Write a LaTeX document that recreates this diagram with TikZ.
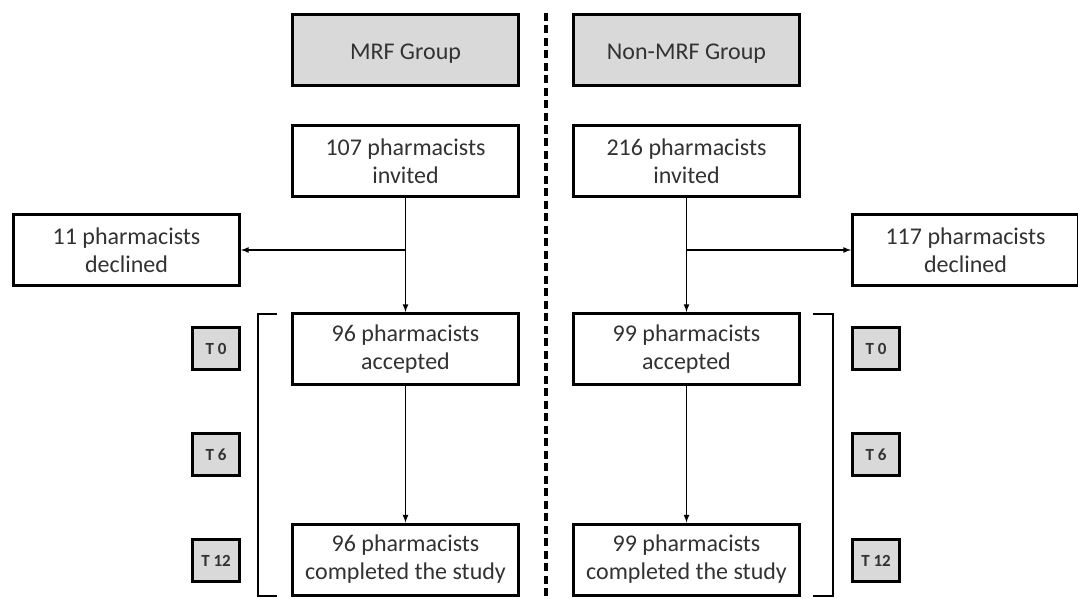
\documentclass[tikz,border=0pt]{standalone}
\usepackage{fontspec}
\setmainfont{Carlito}
\usetikzlibrary{calc}
\definecolor{boxgray}{RGB}{217,217,217}
\definecolor{txtgray}{RGB}{50,50,50}
\tikzset{
  stage/.style={draw,line width=3pt,minimum width=226pt,minimum height=71pt,
    align=center,text=txtgray,font=\fontsize{24}{28}\selectfont},
  group/.style={stage,fill=boxgray},
  tbox/.style={draw,line width=3pt,fill=boxgray,minimum width=47pt,
    minimum height=42pt,text=txtgray,font=\fontsize{17}{19}\selectfont\bfseries},
  flow/.style={-latex,line width=1.6pt},
  bracket/.style={line width=1.8pt}
}
\newcommand{\lowtext}[1]{\raisebox{-4pt}[\height][\depth]{#1}}

\begin{document}
\begin{tikzpicture}[x=1pt,y=-1pt]
    \useasboundingbox (0,0) rectangle (1078,599) ;
    % dividing line
    \coordinate (dtop) at (546,13) ;
    \coordinate (dbot) at (546,599) ;
    \draw[line width=3.5pt,dash pattern=on 8pt off 4.5pt] (dtop) to (dbot) ;
    % MRF side
    \node[group] (grpA) at (405.5,50) {\lowtext{MRF Group}} ;
    \node[stage] (invA) at (405.5,161) {107 pharmacists\\invited} ;
    \node[stage] (decA) at (126.5,250) {11 pharmacists\\declined} ;
    \node[stage] (accA) at (405.5,349) {96 pharmacists\\accepted} ;
    \node[stage] (cmpA) at (405.5,559.5) {96 pharmacists\\completed the study} ;
    \node[tbox] (t0A) at (216,348.5) {T 0} ;
    \node[tbox] (t6A) at (216,454.5) {T 6} ;
    \node[tbox] (t12A) at (216,560.5) {T 12} ;
    \coordinate (brA) at (invA.south |- decA.east) ;
    \draw[flow] (invA.south) to (accA.north) ;
    \draw[flow] (brA) to (decA.east) ;
    \draw[flow] (accA.south) to (cmpA.north) ;
    \draw[bracket] (277,314) -- (258,314) -- (258,596) -- (277,596) ;
    % Non-MRF side
    \node[group] (grpB) at (686.5,50) {\lowtext{Non-MRF Group}} ;
    \node[stage] (invB) at (686.5,161) {216 pharmacists\\invited} ;
    \node[stage] (decB) at (965.5,250) {117 pharmacists\\declined} ;
    \node[stage] (accB) at (686.5,349) {99 pharmacists\\accepted} ;
    \node[stage] (cmpB) at (686.5,559.5) {99 pharmacists\\completed the study} ;
    \node[tbox] (t0B) at (876,348.5) {T 0} ;
    \node[tbox] (t6B) at (876,454.5) {T 6} ;
    \node[tbox] (t12B) at (876,560.5) {T 12} ;
    \coordinate (brB) at (invB.south |- decB.west) ;
    \draw[flow] (invB.south) to (accB.north) ;
    \draw[flow] (brB) to (decB.west) ;
    \draw[flow] (accB.south) to (cmpB.north) ;
    \draw[bracket] (813,314) -- (833,314) -- (833,596) -- (813,596) ;
\end{tikzpicture}
\end{document}
